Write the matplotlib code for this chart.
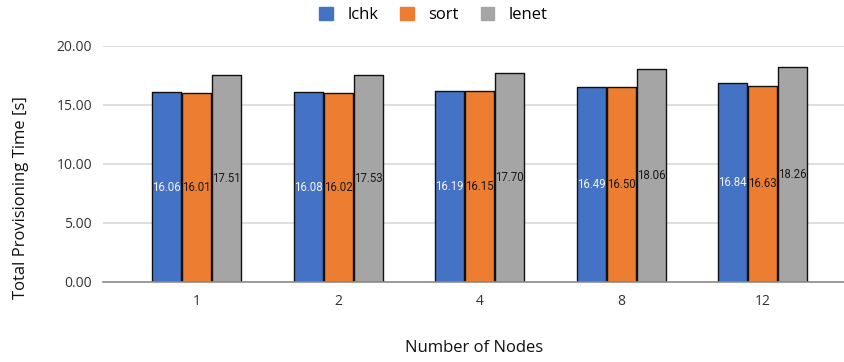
import matplotlib
matplotlib.use("Agg")
import matplotlib.pyplot as plt
import numpy as np

categories = ["1", "2", "4", "8", "12"]
series_names = ["lchk", "sort", "lenet"]
lchk = [16.06, 16.08, 16.19, 16.49, 16.84]
sort_vals = [16.01, 16.02, 16.15, 16.50, 16.63]
lenet = [17.51, 17.53, 17.70, 18.06, 18.26]
yticks = [0, 5, 10, 15, 20]

colors = ["#4472C4", "#ED7D31", "#A5A5A5"]
text_colors = ["#f2f2f2", "#1a1a1a", "#1a1a1a"]

fig = plt.figure(figsize=(8.45, 3.62), dpi=100)
ax = fig.add_axes([0.122, 0.221, 0.878, 0.652])

x = np.arange(len(categories))
width = 0.205
step = 0.212
all_series = [lchk, sort_vals, lenet]
for i, (name, vals) in enumerate(zip(series_names, all_series)):
    pos = x + (i - 1) * step
    bars = ax.bar(pos, vals, width, color=colors[i], edgecolor="#111111",
                  linewidth=1.0, label=name, zorder=3)
    for b in bars:
        b.set_joinstyle("round")
    for p, v in zip(pos, vals):
        ax.text(p, v / 2, f"{v:.2f}", ha="center", va="center",
                fontsize=8.3, color=text_colors[i], family="Roboto", zorder=4)

ax.set_ylim(0, 20)
ax.set_xlim(-0.661, 4.583)
ax.set_yticks(yticks)
ax.set_yticklabels([f"{t:.2f}" for t in yticks])
ax.set_xticks(x)
ax.set_xticklabels(categories)
ax.tick_params(axis="both", length=0, labelsize=10, colors="#333333")
ax.tick_params(axis="y", pad=8)
ax.tick_params(axis="x", pad=9)
for lbl in ax.get_xticklabels() + ax.get_yticklabels():
    lbl.set_family("Open Sans")
ax.yaxis.grid(True, color="#d9d9d9", linewidth=1.2, zorder=0)
ax.set_axisbelow(True)
for s in ["top", "right", "left"]:
    ax.spines[s].set_visible(False)
ax.spines["bottom"].set_color("#8c8c8c")
ax.spines["bottom"].set_linewidth(1.2)
ax.spines["bottom"].set_zorder(5)

fig.text(0.025, 0.453, "Total Provisioning Time [s]", rotation=90, ha="center",
         va="center", fontsize=12, family="Open Sans", color="#111111")
fig.text(0.561, 0.040, "Number of Nodes", ha="center", va="center",
         fontsize=12, family="Open Sans", color="#111111")

handles = [plt.Rectangle((0, 0), 1, 1, color=c) for c in colors]
fig.legend(handles, series_names, loc="center", bbox_to_anchor=(0.513, 0.958),
           ncol=3, frameon=False, prop={"family": "Open Sans", "size": 12},
           handlelength=0.8, handleheight=0.8, columnspacing=1.3, handletextpad=0.9)

fig.savefig("out.png", dpi=100)
